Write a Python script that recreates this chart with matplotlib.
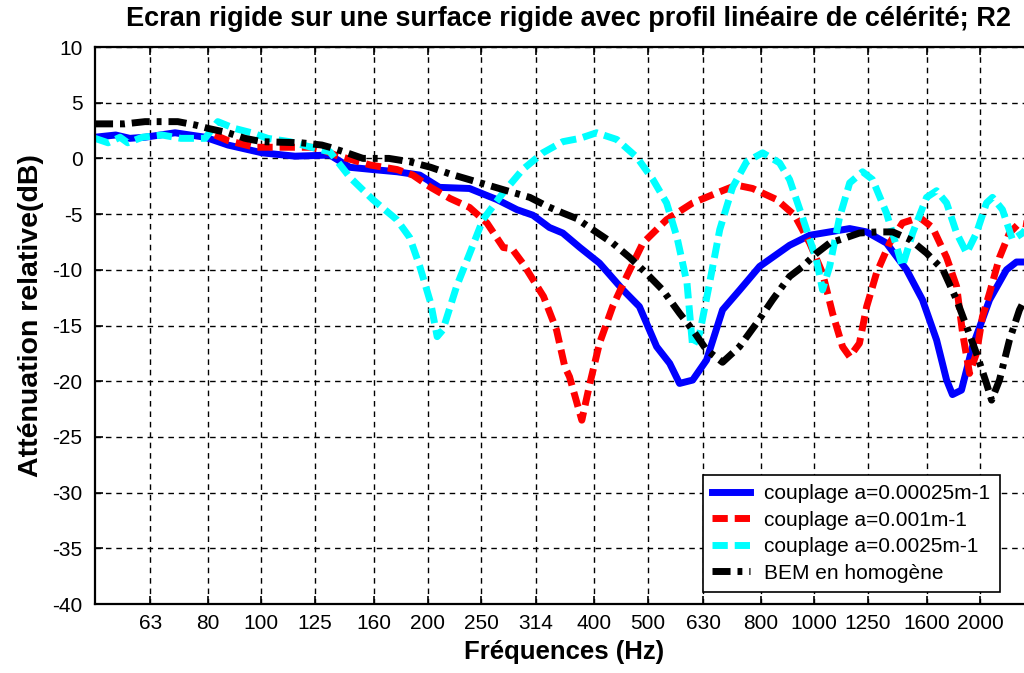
import numpy as np
import matplotlib
matplotlib.use('Agg')
import matplotlib.pyplot as plt
from matplotlib.ticker import FixedLocator, FixedFormatter, NullLocator

# --- data (frequency in Hz, relative attenuation in dB) ---
tick_freqs = [63, 80, 100, 125, 160, 200, 250, 314, 400, 500, 630, 800, 1000, 1250, 1600, 2000]
tick_labels = ['63', '80', '100', '125', '160', '200', '250', '314', '400', '500',
               '630', '800', '1000', '1250', '1600', '2000']

f_a1 = [50, 54.5, 57.8, 61.6, 69.8, 79.1, 87.0, 100.3, 115, 133, 144.6, 159, 176, 193.5, 210,
        238, 267, 290, 310, 332, 351, 377, 409, 451, 483, 519, 548, 571, 603, 639, 683, 734,
        797, 903, 982, 1067, 1160, 1245, 1352, 1470, 1571, 1666, 1737, 1780, 1848, 1935,
        2077, 2229, 2324, 2500]
att_a1 = [1.9, 2.1, 1.8, 1.9, 2.3, 1.9, 1.2, 0.5, 0.2, 0.3, -0.8, -1.0, -1.2, -1.5, -2.6,
          -2.7, -3.7, -4.6, -5.1, -6.2, -6.7, -8.0, -9.4, -11.8, -13.3, -16.9, -18.4, -20.2,
          -19.9, -18.1, -13.6, -11.8, -9.7, -7.8, -6.9, -6.6, -6.3, -6.6, -7.6, -10.0, -12.7,
          -16.3, -19.9, -21.2, -20.8, -16.9, -12.7, -10.0, -9.3, -9.3]

f_a2 = [82.4, 87.0, 97.3, 107, 123.5, 130, 136, 157.6, 176, 188, 202.5,
        219.5, 238, 256, 274, 284, 297, 324, 342, 354, 361, 377, 380, 393, 409, 432, 458, 490,
        541, 603, 667, 724, 774, 856, 922, 982, 1036, 1080, 1126, 1160, 1208, 1245, 1297,
        1370, 1445, 1552, 1638, 1737, 1811, 1857, 1911, 1967, 2017, 2077, 2165, 2257, 2353,
        2500]
att_a2 = [2.1, 1.6, 1.0, 1.0, 1.0, 0.7, 0.3, -0.6, -1.0, -1.5, -2.6,
          -3.6, -4.4, -5.8, -8.0, -8.1, -9.4, -12.4, -15.4, -18.7, -19.6, -22.9, -23.5, -20.2,
          -16.6, -13.3, -10.6, -7.6, -5.5, -4.0, -3.1, -2.4, -2.7, -3.7, -5.1, -7.6, -10.3,
          -13.9, -16.9, -17.8, -16.6, -13.3, -10.3, -7.6, -5.8, -5.3, -6.2, -8.9, -11.5,
          -15.7, -19.3, -17.5, -14.2, -12.1, -8.9, -6.7, -5.8, -6.0]

f_a3 = [50, 52.8, 55.5, 57.3, 60.9, 66.1, 71.5, 79.1, 83.4, 89.3, 96.0, 102.7, 112.6, 130,
        133, 144.6, 159.1, 175.8, 185.5, 193.5, 202.5, 208, 213, 225.5, 238.3, 251.7, 273.6,
        297, 323, 351, 377, 404, 439.5, 478, 511, 541, 565, 589, 603, 621, 647, 675, 712,
        755, 807, 866, 903, 953, 1010, 1036, 1067, 1112, 1160, 1224, 1276, 1352, 1410, 1445,
        1508, 1598, 1666, 1737, 1811, 1888, 1967, 2051, 2103, 2192, 2286, 2383, 2500]
att_a3 = [1.8, 1.4, 1.9, 1.4, 1.9, 2.1, 1.8, 1.8, 3.3, 2.7, 2.3, 1.8, 1.5, 0.7, 0.6, -1.7,
          -3.7, -5.5, -7.1, -9.7, -13.0, -16.0, -15.4, -11.5, -8.5, -5.5, -3.1, -1.0, 0.5,
          1.5, 1.8, 2.3, 1.7, 0.1, -1.9, -4.0, -7.1, -11.2, -16.9, -15.7, -11.2, -6.4, -2.6,
          -0.3, 0.5, -0.4, -1.9, -5.3, -9.1, -11.8, -9.7, -5.3, -2.2, -1.2, -1.9, -4.9, -7.9,
          -9.7, -6.7, -3.5, -2.9, -4.0, -6.7, -8.5, -6.7, -4.0, -3.5, -4.6, -7.3, -6.7, -5.5]

f_bem = [50, 56.6, 61.6, 70.6, 75.9, 80.0, 87.0, 93.4, 100.3, 118.1, 128.6, 133, 142.8,
         152.7, 170.1, 185.5, 202.5, 219.5, 245.2, 273.6, 306, 329, 351, 372, 397.6, 432,
         464, 497, 532, 571, 603, 639, 683, 733, 787, 841, 903, 954, 1011, 1067, 1145, 1208,
         1297, 1388, 1493, 1598, 1711, 1811, 1888, 1967, 2051, 2095, 2165, 2257, 2353, 2500]
att_bem = [3.1, 3.1, 3.3, 3.3, 3.0, 2.7, 2.3, 1.8, 1.5, 1.4, 1.2, 1.0, 0.5, 0.0, 0.0, -0.3,
           -0.8, -1.4, -2.1, -2.8, -3.5, -4.3, -4.9, -5.4, -6.4, -7.6, -8.9, -10.3, -11.8,
           -13.9, -15.4, -17.2, -18.3, -16.9, -14.8, -12.7, -10.6, -9.7, -8.5, -7.6, -7.1,
           -6.7, -6.6, -6.6, -7.3, -8.5, -10.0, -12.7, -15.1, -17.5, -20.2, -21.7, -19.9,
           -16.3, -13.6, -11.0]


def main():
    plt.rcParams['font.family'] = ['Liberation Sans', 'DejaVu Sans']
    plt.rcParams['axes.unicode_minus'] = False

    fig = plt.figure(figsize=(10.24, 6.73), dpi=100)
    # right edge of the axes lies past the figure edge, as in the cropped original
    ax = fig.add_axes([95 / 1024, 69 / 673, 939 / 1024, 557 / 673])

    ax.plot(f_a1, att_a1, color='#0000ff', lw=5, solid_joinstyle='round',
            label='couplage a=0.00025m-1')
    ax.plot(f_a2, att_a2, color='#ff0000', lw=5, dashes=(2.2, 1.0),
            label='couplage a=0.001m-1')
    ax.plot(f_a3, att_a3, color='#00ffff', lw=5, dashes=(2.2, 1.0),
            label='couplage a=0.0025m-1')
    ax.plot(f_bem, att_bem, color='#000000', lw=5, dashes=(2.6, 1.0, 0.7, 1.0),
            label='BEM en homogène')

    ax.set_xscale('log')
    ax.set_xlim(50, 2500)
    ax.set_ylim(-40, 10)
    ax.xaxis.set_major_locator(FixedLocator(tick_freqs))
    ax.xaxis.set_major_formatter(FixedFormatter(tick_labels))
    ax.xaxis.set_minor_locator(NullLocator())
    ax.set_yticks(np.arange(-40, 11, 5))

    ax.grid(True, color='black', linestyle=(0, (4, 3.5)), linewidth=1.0)
    ax.tick_params(direction='in', length=6, width=1.2, labelsize=15, top=True, right=True)
    ax.tick_params(axis='x', pad=7)
    ax.tick_params(axis='y', pad=9)
    for s in ax.spines.values():
        s.set_linewidth(1.6)

    ax.set_xlabel('Fréquences (Hz)', fontsize=18.5, fontweight='bold', labelpad=5)
    ax.set_ylabel('Atténuation relative(dB)', fontsize=20.5, fontweight='bold', labelpad=6)
    ax.yaxis.set_label_coords(-0.054, 0.517)

    fig.text(568 / 1024, 1 - 19 / 673,
             'Ecran rigide sur une surface rigide avec profil linéaire de célérité; R2',
             ha='center', va='center', fontsize=19.5, fontweight='bold')

    leg = ax.legend(loc='lower left', bbox_to_anchor=(0.6475, 0.0215), fontsize=15,
                    frameon=True, fancybox=False, borderaxespad=0, handlelength=1.8,
                    handletextpad=0.7, labelspacing=0.36, borderpad=0.45)
    leg.get_frame().set_edgecolor('black')
    leg.get_frame().set_linewidth(1.2)
    leg.get_frame().set_alpha(1)

    fig.savefig('out.png', dpi=100)


if __name__ == '__main__':
    main()
